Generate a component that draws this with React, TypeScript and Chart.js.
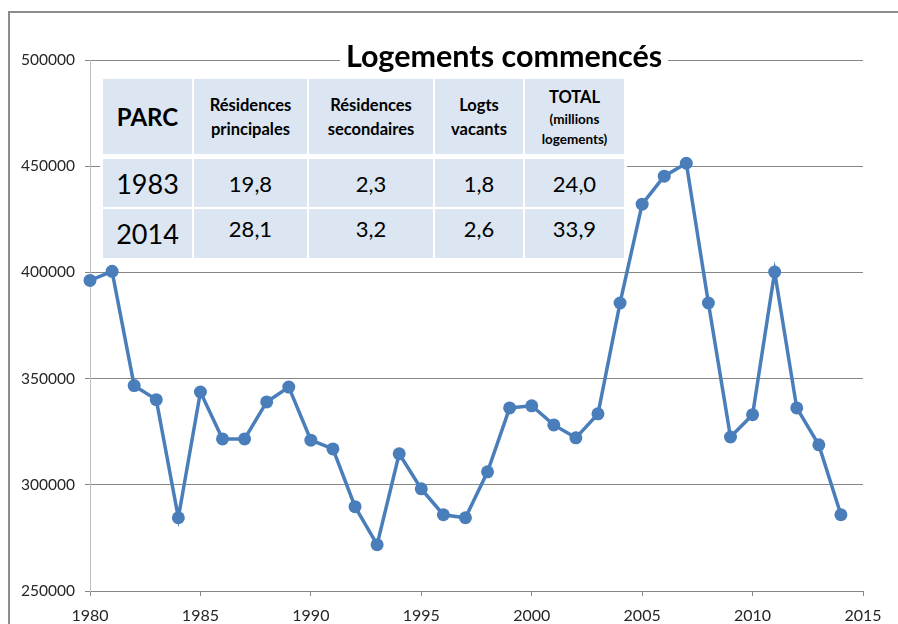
import React, { useEffect, useRef } from "react";
import { Chart, registerables } from "chart.js";

Chart.register(...registerables);

const years = [1980,1981,1982,1983,1984,1985,1986,1987,1988,1989,1990,1991,1992,1993,1994,1995,1996,1997,1998,1999,2000,2001,2002,2003,2004,2005,2006,2007,2008,2009,2010,2011,2012,2013,2014];
const starts = [396200,400500,346700,340100,284500,343700,321600,321600,339000,346000,321000,316900,289700,271800,314600,298100,285900,284500,306100,336200,337200,328200,322100,333400,385600,432100,445300,451400,385600,322500,333000,400200,336200,318800,285900];

const title = "Logements commencés";
const tableHeader = ["PARC", "Résidences\nprincipales", "Résidences\nsecondaires", "Logts\nvacants", "TOTAL"];
const totalSub = "(millions\nlogements)";
const row1983 = ["1983", "19,8", "2,3", "1,8", "24,0"];
const row2014 = ["2014", "28,1", "3,2", "2,6", "33,9"];

const FONT = "Lato, 'Open Sans', sans-serif";
const LINE = "#4A7EBB";

const colX = [103, 194, 309, 435, 525];
const colW = [89, 113, 124, 88, 99];
const rowY = [79, 159, 209];
const rowH = [75, 48, 49];
const CELL = "#DCE6F2";

export default function App() {
  const ref = useRef<HTMLCanvasElement | null>(null);

  useEffect(() => {
    document.body.style.margin = "0";
    const titlePlugin = {
      id: "titleOverGrid",
      afterDraw(chart: any) {
        const ctx = chart.ctx;
        ctx.save();
        ctx.font = `bold 30.5px ${FONT}`;
        const w = ctx.measureText(title).width;
        const cx = 504;
        ctx.fillStyle = "#ffffff";
        ctx.fillRect(cx - w / 2 - 6, 40, w + 12, 34);
        ctx.fillStyle = "#000000";
        ctx.textAlign = "center";
        ctx.textBaseline = "middle";
        ctx.fillText(title, cx, 57);
        ctx.restore();
      },
    };
    const chart = new Chart(ref.current as HTMLCanvasElement, {
      type: "line",
      data: {
        datasets: [
          {
            data: years.map((y, i) => ({ x: y, y: starts[i] })),
            borderColor: LINE,
            backgroundColor: LINE,
            borderWidth: 3.5,
            pointRadius: 6.5,
            pointHoverRadius: 6.5,
            pointBackgroundColor: LINE,
            pointBorderColor: LINE,
            pointBorderWidth: 0,
            tension: 0,
            clip: false,
          } as any,
        ],
      },
      options: {
        animation: false,
        responsive: false,
        events: [],
        layout: { padding: { top: 60, right: 35, left: 0, bottom: 0 } },
        plugins: { legend: { display: false }, tooltip: { enabled: false }, title: { display: false } },
        scales: {
          x: {
            type: "linear",
            min: 1980,
            max: 2015,
            afterFit: (s: any) => { s.height = 33; },
            ticks: { stepSize: 5, color: "#262626", font: { family: FONT, size: 16 }, padding: 10, callback: (v: any) => String(v) },
            grid: { drawOnChartArea: false, drawTicks: true, tickLength: 5, color: "#868686" },
            border: { color: "#868686", width: 1 },
          },
          y: {
            min: 250000,
            max: 500000,
            afterFit: (s: any) => { s.width = 90; },
            ticks: { stepSize: 50000, color: "#262626", font: { family: FONT, size: 15.5 }, padding: 10, callback: (v: any) => String(v) },
            grid: { color: "#868686", tickLength: 5, drawTicks: true },
            border: { color: "#BFBFBF", width: 1 },
          },
        },
      },
      plugins: [titlePlugin],
    });
    return () => chart.destroy();
  }, []);

  const cellStyle = (c: number, r: number): React.CSSProperties => ({
    position: "absolute",
    left: colX[c],
    top: rowY[r],
    width: colW[c],
    height: rowH[r],
    background: CELL,
    display: "flex",
    flexDirection: "column",
    alignItems: "center",
    justifyContent: "center",
    textAlign: "center",
    fontFamily: FONT,
    color: "#000",
    whiteSpace: "pre-line",
  });

  return (
    <div style={{ position: "relative", width: 898, height: 624, overflow: "hidden", background: "#fff" }}>
      <canvas ref={ref} width={898} height={624} style={{ position: "absolute", left: 0, top: 0 }} />
      <div style={{ position: "absolute", left: 8, top: 11, width: 1000, height: 1000, border: "2px solid #8C8C8C", boxSizing: "border-box" }} />
      <div style={{ position: "absolute", left: 100, top: 76, width: 527, height: 185, background: "#fff" }} />
      {tableHeader.map((h, c) => (
        <div key={"h" + c} style={{ ...cellStyle(c, 0), fontWeight: "bold", fontSize: c === 0 ? 24 : 16.5, lineHeight: c === 0 ? "26px" : "24px" }}>
          <span>{h}</span>
          {c === 4 ? <span style={{ fontSize: 13.5, lineHeight: "20px" }}>{totalSub}</span> : null}
        </div>
      ))}
      {[row1983, row2014].map((row, r) =>
        row.map((v, c) => (
          <div key={"r" + r + c} style={{ ...cellStyle(c, r + 1), fontSize: c === 0 ? 27 : 22, paddingBottom: r === 1 && c > 0 ? 10 : 0, boxSizing: "border-box" }}>
            {v}
          </div>
        ))
      )}
    </div>
  );
}
